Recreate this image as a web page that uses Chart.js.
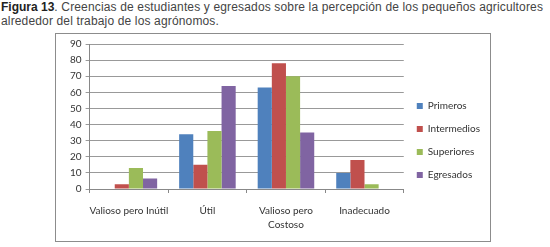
<!DOCTYPE html>
<html>
<head>
<meta charset="utf-8">
<script src="https://cdn.jsdelivr.net/npm/chart.js@4"></script>
<style>
  html, body { margin: 0; padding: 0; background: #fff; }
  body { width: 550px; height: 247px; position: relative; overflow: hidden; }
  #caption {
    position: absolute; left: 1px; top: 0px; width: 549px;
    font: 12px "Liberation Sans", Arial, sans-serif; color: #444; line-height: 14px;
    letter-spacing: 0.15px;
  }
  #caption b { color: #222; letter-spacing: 0; }
  #box {
    position: absolute; left: 55px; top: 33px; width: 436px; height: 209px;
    border: 1px solid #8c8c8c; box-sizing: border-box;
  }
  #chart { display: block; }
</style>
</head>
<body>
<div id="caption"><b>Figura 13</b>. Creencias de estudiantes y egresados sobre la percepción de los pequeños agricultores alrededor del trabajo de los agrónomos.</div>
<div id="box"><canvas id="chart" width="434" height="207"></canvas></div>
<script>
// categories and series
const categories = ['Valioso pero Inútil', 'Útil', ['Valioso pero', 'Costoso'], 'Inadecuado'];
const primeros    = [0, 34, 63, 10];
const intermedios = [3, 15, 78, 18];
const superiores  = [13, 36, 70, 3];
const egresados   = [6.5, 64, 35, 0];
const yTicks = [0, 10, 20, 30, 40, 50, 60, 70, 80, 90];

const font = { family: 'Lato, "Open Sans", sans-serif', size: 10 };

function series(label, data, color) {
  return {
    label, data,
    backgroundColor: color,
    borderWidth: 0,
    categoryPercentage: 0.72,
    barPercentage: 1
  };
}

const canvas = document.getElementById('chart');
new Chart(canvas, {
  type: 'bar',
  data: {
    labels: categories,
    datasets: [
      series('Primeros', primeros, '#4f81bd'),
      series('Intermedios', intermedios, '#c0504d'),
      series('Superiores', superiores, '#9bbb59'),
      series('Egresados', egresados, '#8064a2')
    ]
  },
  options: {
    responsive: false,
    animation: false,
    devicePixelRatio: 1,
    layout: { padding: { left: 10, top: 10, right: 0, bottom: 4 } },
    plugins: {
      legend: {
        position: 'right',
        labels: {
          font, color: '#333',
          boxWidth: 6, boxHeight: 6,
          padding: 13
        }
      },
      tooltip: { enabled: false }
    },
    scales: {
      x: {
        grid: { drawOnChartArea: false, color: '#888', tickLength: 4 },
        border: { color: '#888' },
        ticks: { font: { ...font, lineHeight: 1.4 }, color: '#333', maxRotation: 0, autoSkip: false, padding: 11 },
        afterFit: axis => { axis.height -= 6; }
      },
      y: {
        min: 0, max: 90,
        afterBuildTicks: axis => { axis.ticks = yTicks.map(v => ({ value: v })); },
        grid: { color: '#999', tickLength: 4 },
        border: { color: '#888' },
        ticks: { font, color: '#333', padding: 4 }
      }
    }
  }
});
</script>
</body>
</html>
